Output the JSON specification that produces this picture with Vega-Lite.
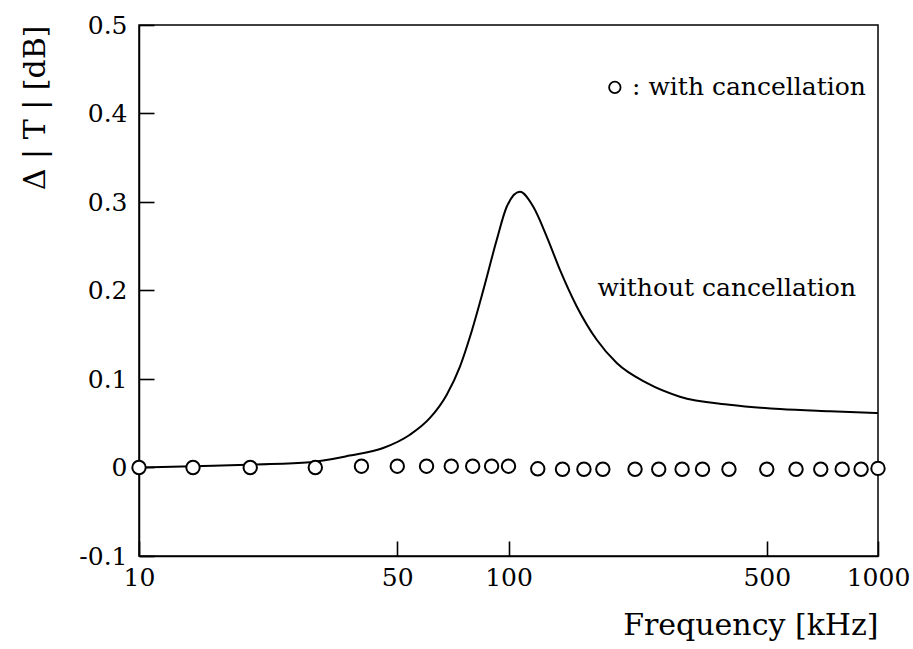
{
  "$schema": "https://vega.github.io/schema/vega-lite/v6.json",
  "width": 739,
  "height": 531,
  "autosize": {"type": "none"},
  "padding": {"left": 139, "top": 25, "right": 35, "bottom": 93},
  "background": "white",
  "config": {
    "view": {"stroke": "black", "strokeWidth": 1.5},
    "font": "DejaVu Serif",
    "axis": {
      "grid": false,
      "domainColor": "black",
      "domainWidth": 1.5,
      "tickColor": "black",
      "tickWidth": 1.6,
      "tickSize": -15,
      "labelFont": "DejaVu Serif",
      "labelFontSize": 25,
      "labelColor": "black",
      "titleFont": "DejaVu Serif",
      "titleFontSize": 30,
      "titleFontWeight": "normal",
      "titleColor": "black"
    }
  },
  "datasets": {
    "curve": [
      {"f": 10, "v": 0.0},
      {"f": 14, "v": 0.0015},
      {"f": 20.8, "v": 0.0034},
      {"f": 29.0, "v": 0.006},
      {"f": 37.2, "v": 0.0135},
      {"f": 45.8, "v": 0.022},
      {"f": 54.1, "v": 0.037},
      {"f": 61.3, "v": 0.056},
      {"f": 68.0, "v": 0.082},
      {"f": 73.9, "v": 0.114},
      {"f": 78.7, "v": 0.148},
      {"f": 85.5, "v": 0.2007},
      {"f": 92.9, "v": 0.257},
      {"f": 98.9, "v": 0.2946},
      {"f": 107.4, "v": 0.3115},
      {"f": 116.7, "v": 0.2946},
      {"f": 126.9, "v": 0.261},
      {"f": 137.9, "v": 0.223},
      {"f": 153.0, "v": 0.182},
      {"f": 173.3, "v": 0.1443},
      {"f": 196.3, "v": 0.118},
      {"f": 236.6, "v": 0.0955},
      {"f": 290.9, "v": 0.08},
      {"f": 396.3, "v": 0.071},
      {"f": 543, "v": 0.066},
      {"f": 741.6, "v": 0.0635},
      {"f": 1000, "v": 0.0615}
    ],
    "pts": [
      {"f": 10, "v": 0.0},
      {"f": 14, "v": 0.0},
      {"f": 20, "v": 0.0},
      {"f": 30, "v": 0.0},
      {"f": 40, "v": 0.0015},
      {"f": 50, "v": 0.0015},
      {"f": 60, "v": 0.0015},
      {"f": 70, "v": 0.0015},
      {"f": 80, "v": 0.0015},
      {"f": 90, "v": 0.0015},
      {"f": 100, "v": 0.0015},
      {"f": 120, "v": -0.0015},
      {"f": 140, "v": -0.002},
      {"f": 160, "v": -0.002},
      {"f": 180, "v": -0.002},
      {"f": 220, "v": -0.002},
      {"f": 255, "v": -0.002},
      {"f": 295, "v": -0.002},
      {"f": 335, "v": -0.002},
      {"f": 395, "v": -0.002},
      {"f": 500, "v": -0.002},
      {"f": 600, "v": -0.002},
      {"f": 700, "v": -0.002},
      {"f": 800, "v": -0.002},
      {"f": 900, "v": -0.002},
      {"f": 1000, "v": -0.001}
    ],
    "legendpt": [{"f": 194, "v": 0.4295}],
    "labels": [
      {"f": 927, "v": 0.4295, "t": ": with cancellation"},
      {"f": 872, "v": 0.203, "t": "without cancellation"}
    ]
  },
  "encoding": {
    "x": {
      "field": "f",
      "type": "quantitative",
      "scale": {"type": "log", "domain": [10, 1000], "nice": false},
      "axis": {
        "values": [10, 50, 100, 500, 1000],
        "format": "d",
        "labelPadding": 24,
        "title": "Frequency [kHz]",
        "titleAnchor": "end",
        "titlePadding": 20,
        "labelFlush": false
      }
    },
    "y": {
      "field": "v",
      "type": "quantitative",
      "scale": {"domain": [-0.1, 0.5], "nice": false, "zero": false},
      "axis": {
        "values": [-0.1, 0, 0.1, 0.2, 0.3, 0.4, 0.5],
        "format": ".1~f",
        "labelExpr": "datum.value < -0.05 ? '-0.1' : datum.label",
        "labelPadding": 27,
        "title": "Δ | T | [dB]",
        "titleAnchor": "end",
        "titlePadding": 28,
        "labelFlush": false
      }
    }
  },
  "layer": [
    {
      "data": {"name": "curve"},
      "mark": {"type": "line", "color": "black", "strokeWidth": 2, "interpolate": "monotone"},
      "encoding": {}
    },
    {
      "data": {"name": "pts"},
      "mark": {"type": "point", "shape": "circle", "size": 180, "filled": true, "fill": "white", "stroke": "black", "strokeWidth": 2, "opacity": 1},
      "encoding": {}
    },
    {
      "data": {"name": "legendpt"},
      "mark": {"type": "point", "shape": "circle", "size": 130, "filled": true, "fill": "white", "stroke": "black", "strokeWidth": 1.8, "opacity": 1},
      "encoding": {}
    },
    {
      "data": {"name": "labels"},
      "mark": {"type": "text", "align": "right", "baseline": "middle", "font": "DejaVu Serif", "fontSize": 25, "color": "black"},
      "encoding": {"text": {"field": "t"}}
    }
  ]
}
